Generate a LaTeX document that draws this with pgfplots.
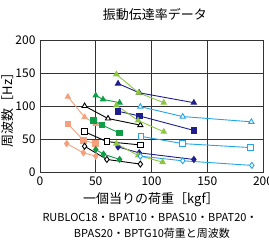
\documentclass[border=0pt]{standalone}
\usepackage{fontspec}
\setmainfont{Noto Sans CJK JP}
\usepackage{pgfplots}
\pgfplotsset{compat=1.18}
\definecolor{cOr}{HTML}{F4A07C}
\definecolor{cGr}{HTML}{0E9E48}
\definecolor{cNv}{HTML}{1E1E8C}
\definecolor{cLg}{HTML}{8DC63F}
\definecolor{cLb}{HTML}{22A6E4}
\begin{document}
\begin{tikzpicture}[x=1pt,y=1pt]
\useasboundingbox (-40,-71) rectangle (229,172);
\begin{axis}[
  at={(0,0)}, anchor=south west,
  scale only axis, width=223pt, height=132pt,
  xmin=0, xmax=200, ymin=0, ymax=200,
  xtick={0,50,...,200}, ytick={0,50,...,200},
  major tick length=0pt,
  grid=major, grid style={black!80, line width=0.7pt},
  axis line style={black!80, line width=0.7pt},
  tick label style={font=\fontsize{12}{12}\selectfont},
  /pgf/number format/assume math mode=true,
  xticklabel style={yshift=-1pt},
  yticklabel style={xshift=-1pt},
  every axis plot/.append style={line width=0.9pt, mark size=3pt},
  clip=false,
]
% orange
\addplot[cOr, mark=triangle*, mark options={fill=cOr}] coordinates {(25,114) (40,83) (50,73)};
\addplot[cOr, mark=square*, mark options={fill=cOr}, mark size=2.8pt] coordinates {(25,73) (39,48) (50,43)};
\addplot[cOr, mark=diamond*, mark options={fill=cOr}] coordinates {(24,43) (39,29) (50,24)};
% black open
\addplot[black, mark=triangle*, mark options={fill=white}] coordinates {(40,100) (61,81) (90,71)};
\addplot[black, mark=square*, mark options={fill=white}, mark size=2.8pt] coordinates {(40,61) (60,46) (90,41)};
\addplot[black, mark=diamond*, mark options={fill=white}] coordinates {(40,39) (60,19) (90,12)};
% green
\addplot[cGr, mark=triangle*, mark options={fill=cGr}] coordinates {(50,116) (56.5,110) (71.4,105)};
\addplot[cGr, mark=square*, mark options={fill=cGr}, mark size=2.8pt] coordinates {(48,78) (55.7,71) (71.4,59)};
\addplot[cGr, mark=diamond*, mark options={fill=cGr}] coordinates {(50,34) (57,27) (71.4,19)};
% navy
\addplot[cNv, mark=triangle*, mark options={fill=cNv}] coordinates {(70,134) (89,120) (138,105)};
\addplot[cNv, mark=square*, mark options={fill=cNv}, mark size=2.8pt] coordinates {(70,92) (89,85) (138,63)};
\addplot[cNv, mark=diamond*, mark options={fill=cNv}] coordinates {(70,38) (89,29) (138,19)};
% light green
\addplot[cLg, mark=triangle*, mark options={fill=cLg}] coordinates {(68.5,148) (88.4,120) (111,105)};
\addplot[cLg, mark=triangle*, mark options={fill=cLg}] coordinates {(68.5,101) (88,78) (111,61)};
\addplot[cLg, mark=triangle*, mark options={fill=cLg}] coordinates {(68.5,43) (88,25) (110,15)};
% light blue open
\addplot[cLb, mark=triangle*, mark options={fill=white}] coordinates {(90,99) (128,84) (189.6,76)};
\addplot[cLb, mark=square*, mark options={fill=white}, mark size=2.8pt] coordinates {(90.5,54) (128,43) (188.7,37)};
\addplot[cLb, mark=diamond*, mark options={fill=white}] coordinates {(90,24) (128,17) (190,10)};
\end{axis}
\node[font=\fontsize{13}{13}\selectfont] at (115,157) {振動伝達率データ};
\node[font=\fontsize{13}{13}\selectfont, rotate=90] at (-32,65) {周波数［Hz］};
\node[font=\fontsize{13}{13}\selectfont] at (111,-28) {一個当りの荷重［kgf］};
\node[font=\fontsize{11}{11}\selectfont] at (110,-45) {RUBLOC18・BPAT10・BPAS10・BPAT20・};
\node[font=\fontsize{11}{11}\selectfont] at (112,-61) {BPAS20・BPTG10荷重と周波数};
\end{tikzpicture}
\end{document}
